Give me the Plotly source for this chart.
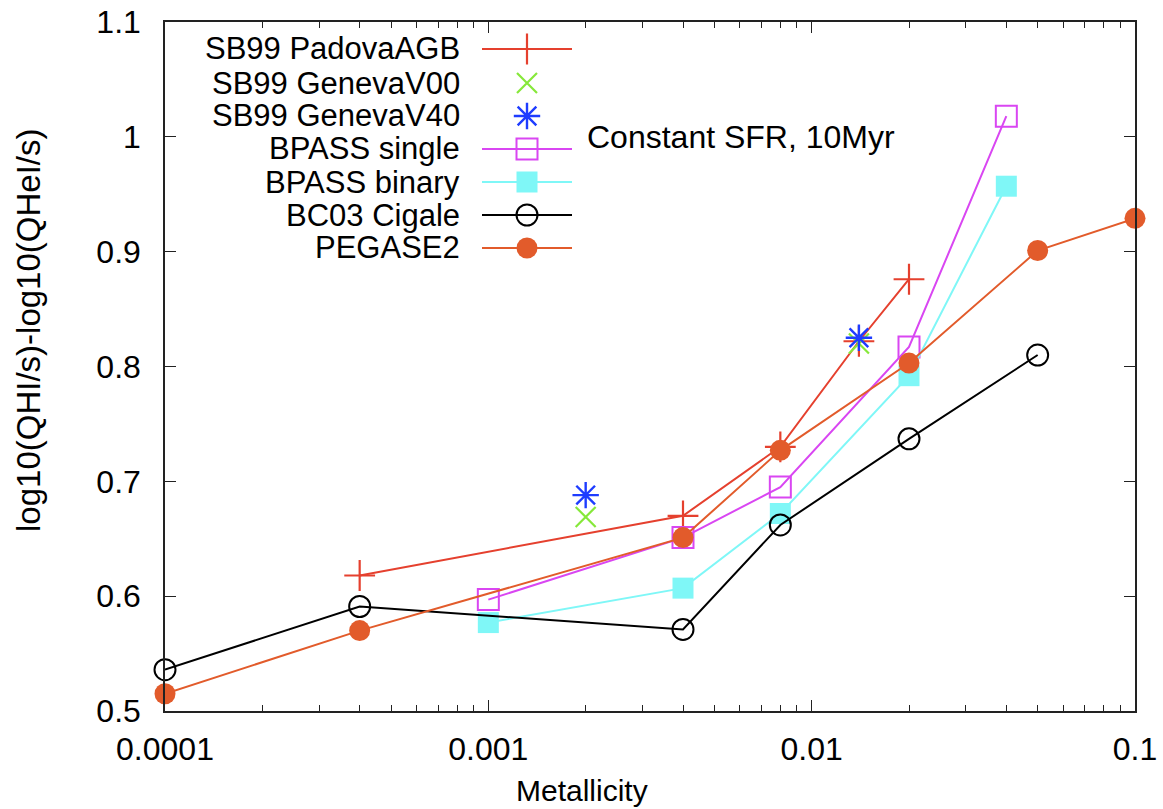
import plotly.graph_objects as go
import numpy as np

# ---------------- data ----------------
padova_x = [0.0004, 0.004, 0.008, 0.014, 0.02]
padova_y = [0.618, 0.670, 0.730, 0.822, 0.876]

genv00_x = [0.002, 0.014]
genv00_y = [0.669, 0.820]

genv40_x = [0.002, 0.014]
genv40_y = [0.688, 0.825]

bps_x = [0.001, 0.004, 0.008, 0.02, 0.04]
bps_y = [0.597, 0.651, 0.695, 0.817, 1.018]

bpb_x = [0.001, 0.004, 0.008, 0.02, 0.04]
bpb_y = [0.577, 0.607, 0.672, 0.792, 0.957]

bc03_x = [0.0001, 0.0004, 0.004, 0.008, 0.02, 0.05]
bc03_y = [0.536, 0.591, 0.571, 0.662, 0.737, 0.810]

peg_x = [0.0001, 0.0004, 0.004, 0.008, 0.02, 0.05, 0.1]
peg_y = [0.515, 0.570, 0.651, 0.727, 0.803, 0.901, 0.929]

x_tickvals = [0.0001, 0.001, 0.01, 0.1]
x_ticktext = ["0.0001", "0.001", "0.01", "0.1"]
y_tickvals = [0.5, 0.6, 0.7, 0.8, 0.9, 1.0, 1.1]
y_ticktext = ["0.5", "0.6", "0.7", "0.8", "0.9", "1", "1.1"]

names = ["SB99 PadovaAGB", "SB99 GenevaV00", "SB99 GenevaV40", "BPASS single",
         "BPASS binary", "BC03 Cigale", "PEGASE2"]

# ---------------- styles ----------------
FONT = "Liberation Sans, Arial, Helvetica, sans-serif"
C_PAD = "#e5402e"
C_V00 = "#86e83a"
C_V40 = "#1e3cff"
C_BPS = "#d946f2"
C_BPB = "#7ff7f7"
C_BC = "#000000"
C_PEG = "#e25b2b"

series = [
    dict(x=padova_x, y=padova_y, color=C_PAD, mode="lines+markers",
         marker=dict(symbol="cross-thin", size=22, line=dict(color=C_PAD, width=2.2))),
    dict(x=genv00_x, y=genv00_y, color=C_V00, mode="markers",
         marker=dict(symbol="x-thin", size=20, line=dict(color=C_V00, width=2.2))),
    dict(x=genv40_x, y=genv40_y, color=C_V40, mode="markers",
         marker=dict(symbol="asterisk", size=22, line=dict(color=C_V40, width=2.4))),
    dict(x=bps_x, y=bps_y, color=C_BPS, mode="lines+markers",
         marker=dict(symbol="square-open", size=21, color=C_BPS, line=dict(color=C_BPS, width=2))),
    dict(x=bpb_x, y=bpb_y, color=C_BPB, mode="lines+markers",
         marker=dict(symbol="square", size=21, color=C_BPB, line=dict(width=0))),
    dict(x=bc03_x, y=bc03_y, color=C_BC, mode="lines+markers",
         marker=dict(symbol="circle-open", size=21, color=C_BC, line=dict(color=C_BC, width=2))),
    dict(x=peg_x, y=peg_y, color=C_PEG, mode="lines+markers",
         marker=dict(symbol="circle", size=21, color=C_PEG, line=dict(width=0))),
]

fig = go.Figure()
for name, s in zip(names, series):
    fig.add_trace(go.Scatter(
        x=s["x"], y=s["y"], mode=s["mode"], name=name,
        line=dict(color=s["color"], width=2),
        marker=s["marker"], cliponaxis=False, showlegend=False,
    ))

# ---------------- manual legend (keys on an overlay pixel axis) ----------------
L, R, T, B = 165, 1135, 22, 711
leg_rows = [49, 83, 116, 149, 182, 215, 248]
leg_line = [482, 572]
leg_mark = 527
leg_text_right = 462
for name, s, ry in zip(names, series, leg_rows):
    if "lines" in s["mode"]:
        fig.add_trace(go.Scatter(x=leg_line, y=[ry, ry], mode="lines",
                                 line=dict(color=s["color"], width=2),
                                 xaxis="x2", yaxis="y2", showlegend=False, hoverinfo="skip"))
    fig.add_trace(go.Scatter(x=[leg_mark], y=[ry], mode="markers", marker=s["marker"],
                             xaxis="x2", yaxis="y2", showlegend=False, hoverinfo="skip",
                             cliponaxis=False))
    fig.add_annotation(text=name, xref="paper", yref="paper",
                       x=(leg_text_right - L) / (R - L), y=(B - ry) / (B - T),
                       xanchor="right", yanchor="middle", showarrow=False,
                       font=dict(family=FONT, size=31, color="black"))

fig.add_annotation(text="Constant SFR, 10Myr", xref="paper", yref="y",
                   x=(585 - L) / (R - L), y=1.0, xanchor="left", yanchor="middle",
                   showarrow=False, font=dict(family=FONT, size=32, color="black"))

fig.add_annotation(text="log10(QHI/s)-log10(QHeI/s)", xref="paper", yref="paper",
                   x=(28 - L) / (R - L), y=(B - 331) / (B - T), textangle=-90,
                   xanchor="center", yanchor="middle", showarrow=False,
                   font=dict(family=FONT, size=33, color="black"))

fig.add_annotation(text="Metallicity", xref="paper", yref="paper",
                   x=(582 - L) / (R - L), y=(B - 772) / (B - T),
                   xanchor="center", yanchor="top", showarrow=False,
                   font=dict(family=FONT, size=30, color="black"))

minor_vals = [m * 10.0 ** e for e in range(-4, -1) for m in range(2, 10)]

axis_common = dict(showline=True, linecolor="#222", linewidth=1.5, mirror="ticks",
                   ticks="inside", tickcolor="#222", tickwidth=1.2, ticklen=11,
                   showgrid=False, zeroline=False, automargin=False,
                   tickfont=dict(family=FONT, size=32, color="black"))

fig.update_layout(
    width=1163, height=809,
    margin=dict(l=L, r=1163 - R, t=T, b=809 - B, autoexpand=False),
    paper_bgcolor="white", plot_bgcolor="white",
    xaxis=dict(type="log", range=[-4.00001, -0.99999], tickvals=x_tickvals, ticktext=x_ticktext,
               ticklabelstandoff=9,
               minor=dict(tickvals=minor_vals, ticks="inside", ticklen=6,
                          tickcolor="#222", tickwidth=1.2, showgrid=False),
               **axis_common),
    yaxis=dict(range=[0.5, 1.1], tickvals=y_tickvals, ticktext=y_ticktext,
               ticklabelstandoff=16, **axis_common),
    xaxis2=dict(overlaying="x", range=[L, R], visible=False, fixedrange=True),
    yaxis2=dict(overlaying="y", range=[B, T], visible=False, fixedrange=True),
)

fig.write_html("out.html", config={"displayModeBar": False},
               post_script="document.body.style.margin='0';document.body.style.overflow='hidden';")
